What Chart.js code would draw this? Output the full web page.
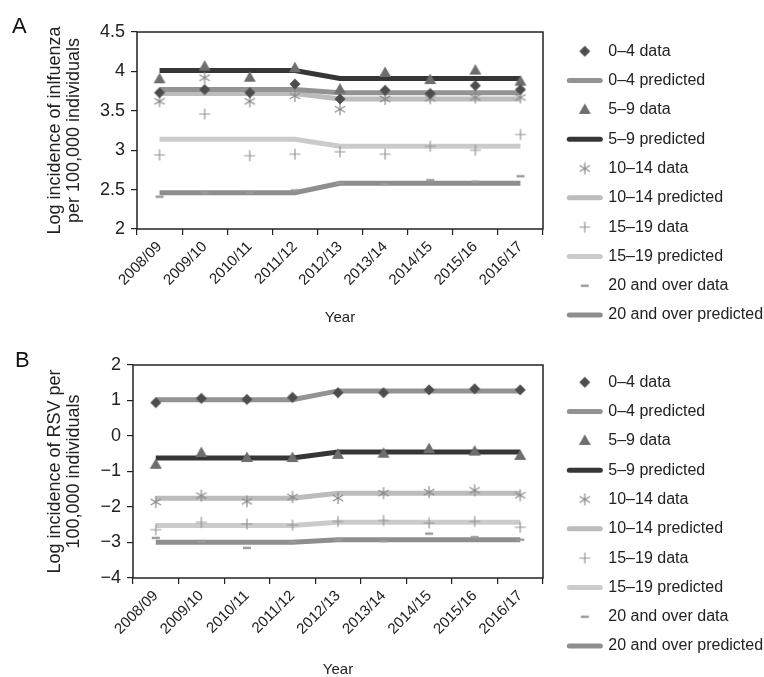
<!DOCTYPE html>
<html>
<head>
<meta charset="utf-8">
<script src="https://cdn.jsdelivr.net/npm/chart.js@4.4.1/dist/chart.umd.min.js"></script>
<style>
  body { margin: 0; background: #fff; }
  .panel { position: relative; width: 764px; }
  .tag { position: absolute; font: 22px "Liberation Sans", Arial, sans-serif; color: #111; line-height: normal; }
  canvas { display: block; }
</style>
</head>
<body>
<div class="panel" style="height:340px">
  <span class="tag" style="left:12px;top:13px">A</span>
  <canvas id="fluChart" width="764" height="340"></canvas>
</div>
<div class="panel" style="height:337px">
  <span class="tag" style="left:15px;top:7px">B</span>
  <canvas id="rsvChart" width="764" height="337"></canvas>
</div>
<script>
const years = ["2008/09", "2009/10", "2010/11", "2011/12", "2012/13", "2013/14", "2014/15", "2015/16", "2016/17"];
const ageGroups = ["0–4", "5–9", "10–14", "15–19", "20 and over"];

// Panel A - influenza (log incidence per 100,000)
const flu04Data = [3.73, 3.77, 3.73, 3.84, 3.65, 3.76, 3.72, 3.82, 3.77];
const flu04Pred = [3.77, 3.77, 3.77, 3.77, 3.73, 3.73, 3.73, 3.73, 3.73];
const flu59Data = [3.90, 4.06, 3.92, 4.04, 3.77, 3.98, 3.89, 4.01, 3.87];
const flu59Pred = [4.01, 4.01, 4.01, 4.01, 3.91, 3.91, 3.91, 3.91, 3.91];
const flu1014Data = [3.62, 3.92, 3.62, 3.69, 3.52, 3.65, 3.66, 3.67, 3.67];
const flu1014Pred = [3.72, 3.72, 3.72, 3.72, 3.65, 3.65, 3.65, 3.65, 3.65];
const flu1519Data = [2.94, 3.46, 2.93, 2.95, 2.98, 2.95, 3.05, 3.00, 3.20];
const flu1519Pred = [3.14, 3.14, 3.14, 3.14, 3.05, 3.05, 3.05, 3.05, 3.05];
const flu20Data = [2.41, 2.46, 2.46, 2.49, 2.58, 2.57, 2.62, 2.60, 2.67];
const flu20Pred = [2.46, 2.46, 2.46, 2.46, 2.58, 2.58, 2.58, 2.58, 2.58];

// Panel B - RSV (log incidence per 100,000)
const rsv04Data = [0.94, 1.06, 1.03, 1.09, 1.22, 1.22, 1.30, 1.33, 1.30];
const rsv04Pred = [1.02, 1.02, 1.02, 1.02, 1.27, 1.27, 1.27, 1.27, 1.27];
const rsv59Data = [-0.81, -0.48, -0.62, -0.62, -0.53, -0.50, -0.37, -0.44, -0.56];
const rsv59Pred = [-0.62, -0.62, -0.62, -0.62, -0.45, -0.45, -0.45, -0.45, -0.45];
const rsv1014Data = [-1.86, -1.68, -1.84, -1.72, -1.75, -1.61, -1.58, -1.53, -1.67];
const rsv1014Pred = [-1.75, -1.75, -1.75, -1.75, -1.61, -1.61, -1.61, -1.61, -1.61];
const rsv1519Data = [-2.64, -2.43, -2.48, -2.51, -2.41, -2.38, -2.45, -2.41, -2.57];
const rsv1519Pred = [-2.52, -2.52, -2.52, -2.52, -2.43, -2.43, -2.43, -2.43, -2.43];
const rsv20Data = [-2.87, -2.97, -3.15, -2.98, -2.92, -2.96, -2.75, -2.85, -2.92];
const rsv20Pred = [-2.99, -2.99, -2.99, -2.99, -2.92, -2.92, -2.92, -2.92, -2.92];

const FONT = '"Liberation Sans", Arial, Helvetica, sans-serif';
const INK = "#222";

// small canvases used as point markers (chart and legend)
function glyph(kind, color) {
  const c = document.createElement("canvas");
  c.width = 16;
  c.height = 16;
  const g = c.getContext("2d");
  g.fillStyle = color;
  g.strokeStyle = color;
  g.lineWidth = 1.2;
  g.beginPath();
  if (kind === "diamond") {
    g.moveTo(8, 2.5); g.lineTo(13.5, 8); g.lineTo(8, 13.5); g.lineTo(2.5, 8);
    g.closePath(); g.fill();
  } else if (kind === "triangle") {
    g.moveTo(8, 1.5); g.lineTo(14, 12); g.lineTo(2, 12);
    g.closePath(); g.fill();
  } else if (kind === "asterisk") {
    g.moveTo(8, 2); g.lineTo(8, 14);
    g.moveTo(2.8, 5); g.lineTo(13.2, 11);
    g.moveTo(13.2, 5); g.lineTo(2.8, 11);
    g.stroke();
  } else if (kind === "plus") {
    g.moveTo(8, 2.5); g.lineTo(8, 13.5);
    g.moveTo(2.5, 8); g.lineTo(13.5, 8);
    g.stroke();
  } else {
    g.fillRect(4, 6.8, 8, 2.4);
  }
  return c;
}

const markers = [
  glyph("diamond", "#4d4d4d"),
  glyph("triangle", "#6e6e6e"),
  glyph("asterisk", "#8a8a8a"),
  glyph("plus", "#959595"),
  glyph("dash", "#9a9a9a"),
];
const lineColors = ["#939393", "#363636", "#bcbcbc", "#cbcbcb", "#8e8e8e"];

function buildDatasets(series) {
  const sets = [];
  series.forEach(([obs, pred], i) => {
    sets.push({
      label: ageGroups[i] + " data",
      data: obs,
      showLine: false,
      pointStyle: markers[i],
      pointRadius: 5,
      pointHoverRadius: 5,
      order: 0,
    });
    sets.push({
      label: ageGroups[i] + " predicted",
      data: pred,
      borderColor: lineColors[i],
      backgroundColor: lineColors[i],
      borderWidth: 5,
      pointRadius: 0,
      tension: 0,
      order: 1,
    });
  });
  return sets;
}

// box round the plot area
const frame = {
  id: "frame",
  afterDatasetsDraw(chart) {
    const { ctx, chartArea: a } = chart;
    ctx.save();
    ctx.strokeStyle = INK;
    ctx.lineWidth = 1.5;
    ctx.strokeRect(a.left, a.top, a.right - a.left, a.bottom - a.top);
    ctx.restore();
  },
};

// put the legend where the figure has it
const legendAt = (left, top) => ({
  id: "legendAt",
  afterLayout(chart) {
    const lg = chart.legend;
    lg.left = left;
    lg.top = top;
    lg.right = chart.width;
    lg.bottom = chart.height;
  },
});

function makeChart(id, cfg) {
  const ctx = document.getElementById(id).getContext("2d");
  return new Chart(ctx, {
    type: "line",
    data: { labels: years, datasets: buildDatasets(cfg.series) },
    options: {
      responsive: false,
      animation: false,
      layout: { padding: { top: cfg.padTop, right: 40, bottom: 0, left: 0 } },
      plugins: {
        tooltip: { enabled: false },
        legend: {
          position: "right",
          align: "start",
          labels: {
            usePointStyle: true,
            pointStyleWidth: 31,
            boxHeight: 8,
            padding: 13.3,
            color: INK,
            font: { family: FONT, size: 16 },
            generateLabels: (chart) =>
              chart.data.datasets.map((ds, i) => {
                const isLine = ds.showLine !== false;
                return {
                  text: ds.label,
                  datasetIndex: i,
                  hidden: false,
                  pointStyle: isLine ? "line" : ds.pointStyle,
                  fillStyle: isLine ? ds.borderColor : "#000",
                  strokeStyle: isLine ? ds.borderColor : "#000",
                  lineWidth: isLine ? ds.borderWidth : 0,
                  lineCap: "round",
                  fontColor: INK,
                };
              }),
          },
        },
      },
      scales: {
        x: {
          offset: true,
          afterFit: (s) => { s.height = cfg.xHeight; },
          grid: { offset: true, drawOnChartArea: false, color: INK, lineWidth: 1.2, tickLength: 6 },
          border: { display: false },
          ticks: {
            autoSkip: false, minRotation: 45, maxRotation: 45, padding: 3,
            color: INK, font: { family: FONT, size: 15 },
          },
          title: {
            display: true, text: "Year", color: INK,
            font: { family: FONT, size: 15 },
            padding: { top: 0, bottom: cfg.yearPad },
          },
        },
        y: {
          min: cfg.min,
          max: cfg.max,
          afterFit: (s) => { s.width = cfg.yWidth; },
          grid: { drawOnChartArea: false, color: INK, lineWidth: 1.2, tickLength: 6 },
          border: { display: false },
          ticks: {
            stepSize: cfg.step, padding: 6, color: INK,
            font: { family: FONT, size: 18 },
            callback: (v) => String(v).replace("-", "\u2212"),
          },
          title: {
            display: true, text: cfg.yTitle, color: INK,
            font: { family: FONT, size: 18, lineHeight: 1.05 },
            padding: { top: 45.5, bottom: 0 },
          },
        },
      },
    },
    plugins: [frame, legendAt(556, cfg.legendTop)],
  });
}

makeChart("fluChart", {
  series: [
    [flu04Data, flu04Pred], [flu59Data, flu59Pred], [flu1014Data, flu1014Pred],
    [flu1519Data, flu1519Pred], [flu20Data, flu20Pred],
  ],
  min: 2, max: 4.5, step: 0.5,
  yTitle: ["Log incidence of inlfuenza", "per 100,000 individuals"],
  padTop: 32, xHeight: 111, yWidth: 137, yearPad: 13, legendTop: 30,
});

makeChart("rsvChart", {
  series: [
    [rsv04Data, rsv04Pred], [rsv59Data, rsv59Pred], [rsv1014Data, rsv1014Pred],
    [rsv1519Data, rsv1519Pred], [rsv20Data, rsv20Pred],
  ],
  min: -4, max: 2, step: 1,
  yTitle: ["Log incidence of RSV per", "100,000 individuals"],
  padTop: 25, xHeight: 99, yWidth: 133, yearPad: -2, legendTop: 21,
});
</script>
</body>
</html>
